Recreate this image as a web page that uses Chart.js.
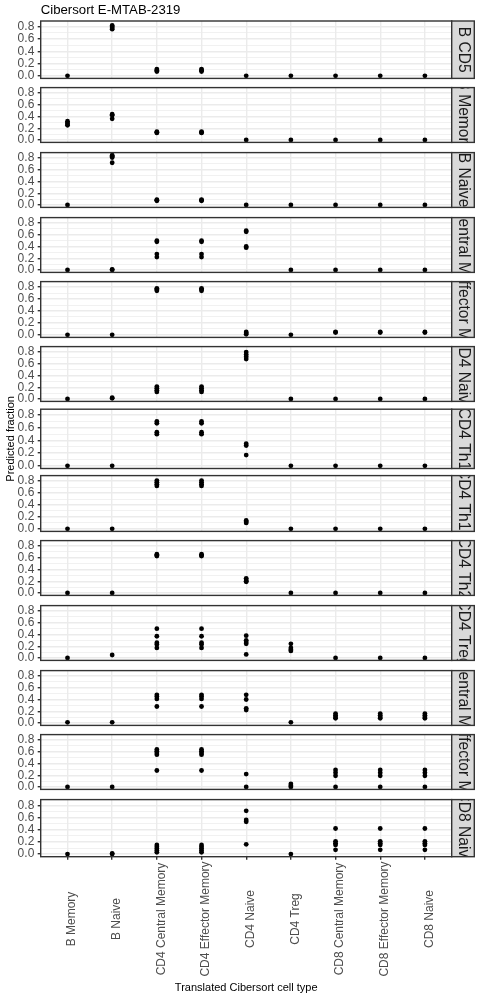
<!DOCTYPE html>
<html><head><meta charset="utf-8">
<script src="https://cdn.jsdelivr.net/npm/chart.js@4.4.1/dist/chart.umd.min.js"></script>
<style>
html,body{margin:0;padding:0;background:#fff;}
#wrap{position:relative;width:480px;height:1000px;overflow:hidden;background:#fff;}
canvas{position:absolute;left:0;}
</style></head><body><div id="wrap"></div>
<script>
// ---------- data ----------
const categories = ['B Memory','B Naive','CD4 Central Memory','CD4 Effector Memory','CD4 Naive','CD4 Treg','CD8 Central Memory','CD8 Effector Memory','CD8 Naive'];
const stripLabels = ['B CD5','B Memory','B Naive','CD4 Central Memory','CD4 Effector Memory','CD4 Naive','CD4 Th1','CD4 Th17','CD4 Th2','CD4 Treg','CD8 Central Memory','CD8 Effector Memory','CD8 Naive'];
const yTicks = [0, 0.2, 0.4, 0.6, 0.8];
const yMinorTicks = [0.1, 0.3, 0.5, 0.7];
const chartTitle = 'Cibersort E-MTAB-2319';
const xTitle = 'Translated Cibersort cell type';
const yTitle = 'Predicted fraction';

// predicted fractions per panel, one list per translated cell type (categories order)
const bCD5     = [[0],[0.82,0.80,0.78,0.76],[0.11,0.09,0.07],[0.11,0.09,0.07],[0],[0],[0],[0],[0]];
const bMemory  = [[0.32,0.29,0.27,0.25],[0.44,0.42,0.36],[0.14,0.13,0.12],[0.14,0.13,0.12],[0],[0],[0],[0],[0]];
const bNaive   = [[0],[0.85,0.83,0.81,0.72],[0.09,0.08,0.07],[0.09,0.08,0.07],[0],[0],[0],[0],[0]];
const cd4CM    = [[0],[0.01,0],[0.50,0.48,0.27,0.22],[0.50,0.48,0.27,0.22],[0.67,0.65,0.40,0.38],[0],[0],[0],[0]];
const cd4EM    = [[0],[0],[0.78,0.76,0.74],[0.78,0.76,0.74],[0.05,0.03,0.01],[0],[0.05,0.04],[0.05,0.04],[0.05,0.04]];
const cd4Naive = [[0],[0.02,0.01],[0.21,0.18,0.15,0.12],[0.21,0.18,0.15,0.12],[0.80,0.76,0.72,0.68],[0],[0],[0],[0]];
const cd4Th1   = [[0],[0],[0.70,0.67,0.53,0.50],[0.70,0.67,0.53,0.50],[0.35,0.32,0.17],[0],[0],[0],[0]];
const cd4Th17  = [[0],[0],[0.81,0.78,0.75,0.72],[0.81,0.78,0.75,0.72],[0.14,0.12,0.10],[0],[0],[0],[0]];
const cd4Th2   = [[0],[0],[0.66,0.64,0.63],[0.66,0.64,0.63],[0.25,0.22,0.20,0.19],[0],[0],[0],[0]];
const cd4Treg  = [[0],[0.05],[0.50,0.37,0.26,0.23,0.17],[0.50,0.37,0.26,0.23,0.17],[0.38,0.30,0.27,0.24,0.06],[0.24,0.17,0.14,0.12],[0],[0],[0]];
const cd8CM    = [[0.01],[0.01],[0.48,0.45,0.41,0.28],[0.48,0.45,0.41,0.28],[0.48,0.40,0.25,0.22],[0.01],[0.16,0.13,0.10,0.08],[0.16,0.13,0.10,0.08],[0.16,0.13,0.10,0.08]];
const cd8EM    = [[0],[0],[0.64,0.61,0.58,0.55,0.28],[0.64,0.61,0.58,0.55,0.28],[0.22,0],[0.05,0.02,0],[0.29,0.24,0.19,0],[0.29,0.24,0.19,0],[0.29,0.24,0.19,0]];
const cd8Naive = [[0],[0.01,0],[0.15,0.12,0.09,0.06,0.03],[0.15,0.12,0.09,0.06,0.03],[0.71,0.56,0.53,0.16],[0],[0.42,0.21,0.18,0.15,0.07],[0.42,0.21,0.18,0.15,0.07],[0.42,0.21,0.18,0.15,0.07]];
const panelValues = [bCD5,bMemory,bNaive,cd4CM,cd4EM,cd4Naive,cd4Th1,cd4Th17,cd4Th2,cd4Treg,cd8CM,cd8EM,cd8Naive];

// ---------- layout / style ----------
const FONT = "'Liberation Sans', Arial, Helvetica, sans-serif";
const W = 480, H = 1000;
const panelTop0 = 21, pitch = 64.7, panelH = 59.3;
const panelLeft = 40.7, panelRight = 451.7, stripW = 22.6;
const yMin = -0.0425, yMax = 0.8935;
const xMin = -0.6, xMax = 8.6;

const facetStrip = {
  id: 'facetStrip',
  afterDatasetsDraw(chart, args, opts) {
    const {ctx, chartArea: a} = chart;
    const h = a.bottom - a.top;
    ctx.save();
    ctx.strokeStyle = '#333333';
    ctx.lineWidth = 1.4;
    ctx.strokeRect(a.left, a.top, a.right - a.left, h);
    ctx.fillStyle = '#D9D9D9';
    ctx.fillRect(a.right, a.top, opts.width, h);
    ctx.strokeRect(a.right, a.top, opts.width, h);
    ctx.save();
    ctx.beginPath();
    ctx.rect(a.right + 0.7, a.top + 0.7, opts.width - 1.4, h - 1.4);
    ctx.clip();
    ctx.translate(a.right + opts.width / 2, a.top + h / 2);
    ctx.rotate(Math.PI / 2);
    ctx.fillStyle = '#1A1A1A';
    ctx.font = '15.6px ' + FONT;
    ctx.textAlign = 'center';
    ctx.textBaseline = 'middle';
    ctx.fillText(opts.label, 0, 0);
    ctx.restore();
    // category labels under the bottom panel, centred (ggplot hjust = 0.5)
    if (opts.xLabels) {
      const xs = chart.scales.x;
      ctx.fillStyle = '#4D4D4D';
      ctx.font = '12px ' + FONT;
      ctx.textAlign = 'center';
      ctx.textBaseline = 'middle';
      categories.forEach((c, k) => {
        ctx.save();
        ctx.translate(xs.getPixelForValue(k) + 4.5, a.bottom + 62.3);
        ctx.rotate(-Math.PI / 2);
        ctx.fillText(c, 0, 0);
        ctx.restore();
      });
    }
    ctx.restore();
  }
};

const wrap = document.getElementById('wrap');

stripLabels.forEach((label, i) => {
  const isFirst = i === 0, isLast = i === stripLabels.length - 1, isMid = i === 6;
  const top = panelTop0 + i * pitch;
  const bottom = top + panelH;
  const extra = isMid ? 30 : 8;
  const canvasTop = isFirst ? 0 : Math.floor(top) - extra;
  const canvasBottom = isLast ? H : Math.ceil(bottom) + extra;
  const ch = canvasBottom - canvasTop;
  const cv = document.createElement('canvas');
  cv.width = W; cv.height = ch;
  cv.style.top = canvasTop + 'px';
  cv.style.width = W + 'px'; cv.style.height = ch + 'px';
  wrap.appendChild(cv);

  const pts = [];
  panelValues[i].forEach((vals, ci) => vals.forEach(v => pts.push({x: ci, y: v})));

  const xAxisH = isLast ? (H - bottom) : 0;

  new Chart(cv, {
    type: 'scatter',
    data: { datasets: [{ data: pts, pointRadius: 2.4, pointBackgroundColor: '#000', pointBorderWidth: 0, pointHoverRadius: 2.4 }] },
    plugins: [facetStrip],
    options: {
      responsive: false, animation: false, events: [],
      layout: {
        autoPadding: false,
        padding: { left: 0, right: W - panelRight, top: isFirst ? 0 : top - canvasTop, bottom: isLast ? 0 : canvasBottom - bottom }
      },
      plugins: {
        legend: { display: false }, tooltip: { enabled: false },
        title: { display: isFirst, text: chartTitle, align: 'start', fullSize: false, color: '#000',
                 font: { family: FONT, size: 13.2, weight: 'normal', lineHeight: 1.2 },
                 padding: { top: 2.6, bottom: top - 2.6 - 13.2 * 1.2 } },
        facetStrip: { label: label, width: stripW, xLabels: isLast }
      },
      scales: {
        x: {
          type: 'linear', min: xMin, max: xMax,
          afterBuildTicks: s => { s.ticks = categories.map((c, k) => ({ value: k })); },
          afterFit: s => { s.height = xAxisH; },
          grid: { color: '#EBEBEB', lineWidth: 1.4, drawTicks: isLast, tickLength: 3, tickColor: '#333333', tickWidth: 1.4 },
          border: { display: false },
          ticks: { display: false, autoSkip: false, callback: v => categories[v] },
          title: { display: isLast, text: xTitle, color: '#000', font: { family: FONT, size: 11 }, padding: { top: 0, bottom: 5.4 } }
        },
        yMinor: {
          type: 'linear', position: 'left', min: yMin, max: yMax,
          afterBuildTicks: s => { s.ticks = yMinorTicks.map(v => ({ value: v })); },
          afterFit: s => { s.width = 0; },
          grid: { color: '#EBEBEB', lineWidth: 0.7, drawTicks: false },
          border: { display: false },
          ticks: { display: false }
        },
        y: {
          type: 'linear', position: 'left', min: yMin, max: yMax,
          afterBuildTicks: s => { s.ticks = yTicks.map(v => ({ value: v })); },
          afterFit: s => { s.width = panelLeft; },
          grid: { color: '#EBEBEB', lineWidth: 1.4, drawTicks: true, tickLength: 3, tickColor: '#333333', tickWidth: 1.4 },
          border: { display: false },
          ticks: { autoSkip: false, padding: 3.4, color: '#4D4D4D', font: { family: FONT, size: 12 }, callback: v => v.toFixed(1) },
          title: { display: isMid, text: yTitle, color: '#000', font: { family: FONT, size: 11 }, padding: { top: 3.9, bottom: 0 } }
        }
      }
    }
  });
});
</script>
</body></html>
